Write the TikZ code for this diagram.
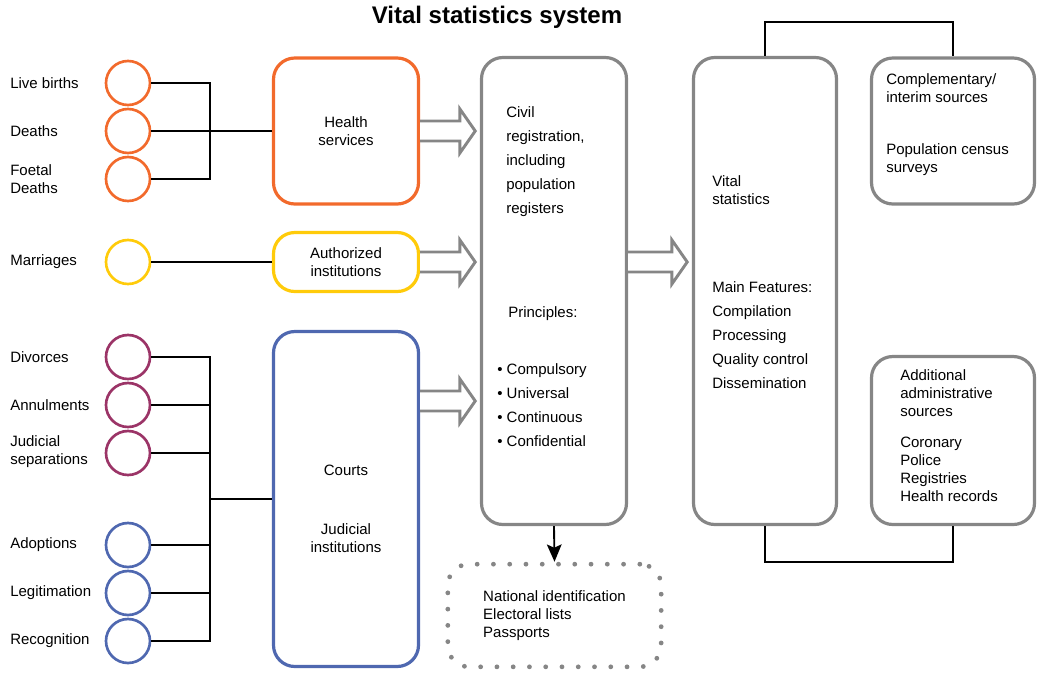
\documentclass[tikz,border=0pt]{standalone}
\usepackage{fontspec}
\setmainfont{Liberation Sans}
\usepackage{xcolor}
\usetikzlibrary{arrows.meta, positioning, calc}

\definecolor{hsorange}{HTML}{F26A2C}
\definecolor{aiyellow}{HTML}{FFCB0A}
\definecolor{dvpurple}{HTML}{9B3467}
\definecolor{ctblue}{HTML}{4F68B0}
\definecolor{boxgray}{HTML}{868686}

\begin{document}
\begin{tikzpicture}[x=0.75pt, y=-0.75pt,
  every node/.style={font=\fontsize{11.25}{13.5}\selectfont, inner sep=0pt},
  ring/.style={circle, draw=#1, line width=2pt, minimum size=33pt},
  roundbox/.style={draw=#1, rounded corners=16pt, line width=2.4pt},
  link/.style={draw=black, line width=0.8pt},
  lbl/.style={anchor=west, align=left},
  wide/.style={lbl, font=\fontsize{11.25}{18}\selectfont},
  fatarrow/.style={draw=boxgray, line width=2.2pt, fill=white, line join=miter,
    to path={let \p1=(\tikztostart), \p2=(\tikztotarget) in
      (\x1,\y1+7.5pt) -- (\x2-15pt,\y1+7.5pt) -- (\x2-15pt,\y1+16.5pt) -- (\x2-3.5pt,\y1)
      -- (\x2-15pt,\y1-16.5pt) -- (\x2-15pt,\y1-7.5pt) -- (\x1,\y1-7.5pt)}}]

\useasboundingbox (0,0) rectangle (1050,676);

% Title
\node[font=\fontsize{18}{20}\selectfont\bfseries] (title) at (497,17) {Vital statistics system};

% Events (circles) with their labels
\node[ring=hsorange] (lb) at (128,83)  {};
\node[ring=hsorange] (de) at (128,131) {};
\node[ring=hsorange] (fd) at (128,179) {};
\node[ring=aiyellow] (ma) at (128,262) {};
\node[ring=dvpurple] (dv) at (128,357) {};
\node[ring=dvpurple] (an) at (128,405) {};
\node[ring=dvpurple] (js) at (128,453) {};
\node[ring=ctblue]   (ad) at (128,545) {};
\node[ring=ctblue]   (lg) at (128,593) {};
\node[ring=ctblue]   (rc) at (128,641) {};

\node[lbl] (lb-t) at (10,83)  {Live births};
\node[lbl] (de-t) at (10,131) {Deaths};
\node[lbl] (fd-t) at (10,179) {Foetal\\Deaths};
\node[lbl] (ma-t) at (10,262) {Marriages};
\node[lbl] (dv-t) at (10,357) {Divorces};
\node[lbl] (an-t) at (10,405) {Annulments};
\node[lbl] (js-t) at (10,452) {Judicial\\separations};
\node[lbl] (ad-t) at (10,545) {Adoptions};
\node[lbl] (lg-t) at (10,593) {Legitimation};
\node[lbl] (rc-t) at (10,641) {Recognition};

% Registering institutions
\node[roundbox=hsorange, minimum width=108.75pt, minimum height=109.5pt, align=center] (health) at (346,131) {Health\\services};
\node[roundbox=aiyellow, minimum width=108.75pt, minimum height=44.25pt, align=center] (auth) at (346,262) {Authorized\\institutions};
\node[roundbox=ctblue, minimum width=108.75pt, minimum height=251.25pt] (courts) at (346,499) {};
\node (courts-t) at (346,470) {Courts};
\node[align=center] (judi-t) at (346,538) {Judicial\\institutions};

% Civil registration
\node[roundbox=boxgray, minimum width=108.75pt, minimum height=350.25pt] (civil) at (554,291) {};
\node[wide] (civil-t) at (506,162) {Civil\\registration,\\including\\population\\registers};
\node[lbl] (princ-t) at (508,314) {Principles:};
\node[wide] (bul-t) at (497,405) {\textbullet\ Compulsory\\\textbullet\ Universal\\\textbullet\ Continuous\\\textbullet\ Confidential};

% Vital statistics
\node[roundbox=boxgray, minimum width=107.25pt, minimum height=350.25pt] (vital) at (765,291) {};
\node[lbl] (vital-t) at (712,190) {Vital\\statistics};
\node[wide] (feat-t) at (712,335) {Main Features:\\Compilation\\Processing\\Quality control\\Dissemination};

% Other sources
\node[roundbox=boxgray, minimum width=122.25pt, minimum height=109.5pt] (compl) at (953,131) {};
\node[lbl] (compl-t) at (886,88) {Complementary/\\interim sources};
\node[lbl] (cens-t) at (886,160) {Population census\\surveys};
\node[roundbox=boxgray, minimum width=122.25pt, minimum height=126pt] (addl) at (953,440.5) {};
\node[lbl] (addl-t) at (900,393) {Additional\\administrative\\sources};
\node[lbl] (recs-t) at (900,469) {Coronary\\Police\\Registries\\Health records};

% Other uses
\node[draw=boxgray, rounded corners=16pt, line width=3.6pt, line cap=round, dash pattern=on 0pt off 12.2pt,
      minimum width=160pt, minimum height=77pt, align=left] (natid) at (554.5,615.5)
      {National identification\\Electoral lists\\Passports};

% Links from events
\coordinate (j1) at (210,131);
\coordinate (j2) at (210,499);
\draw[link] (lb.east) -| (j1) |- (fd.east);
\draw[link] (de.east) -- (health.west);
\draw[link] (ma.east) -- (auth.west);
\draw[link] (dv.east) -| (j2) |- (rc.east);
\draw[link] (an.east) -- (an.east -| j2);
\draw[link] (js.east) -- (js.east -| j2);
\draw[link] (ad.east) -- (ad.east -| j2);
\draw[link] (lg.east) -- (lg.east -| j2);
\draw[link] (j2) -- (courts.west);

% Hollow arrows
\coordinate (ca) at (421,401);
\draw[fatarrow] (health.east) to (civil.west |- health.east);
\draw[fatarrow] (auth.east) to (civil.west |- auth.east);
\draw[fatarrow] (courts.east |- ca) to (civil.west |- ca);
\draw[fatarrow] (civil.east |- auth.east) to (vital.west |- auth.east);

% Brackets to other sources
\coordinate (top) at (860,22);
\coordinate (bot) at (860,562);
\draw[link] (vital.north) |- (top) -| (compl.north);
\draw[link] (vital.south) |- (bot) -| (addl.south);

% Down arrow
\draw[line width=1.4pt, -{Stealth[length=13pt, width=11pt, inset=2.5pt]}] (civil.south) -- (natid.north);

\end{tikzpicture}
\end{document}
